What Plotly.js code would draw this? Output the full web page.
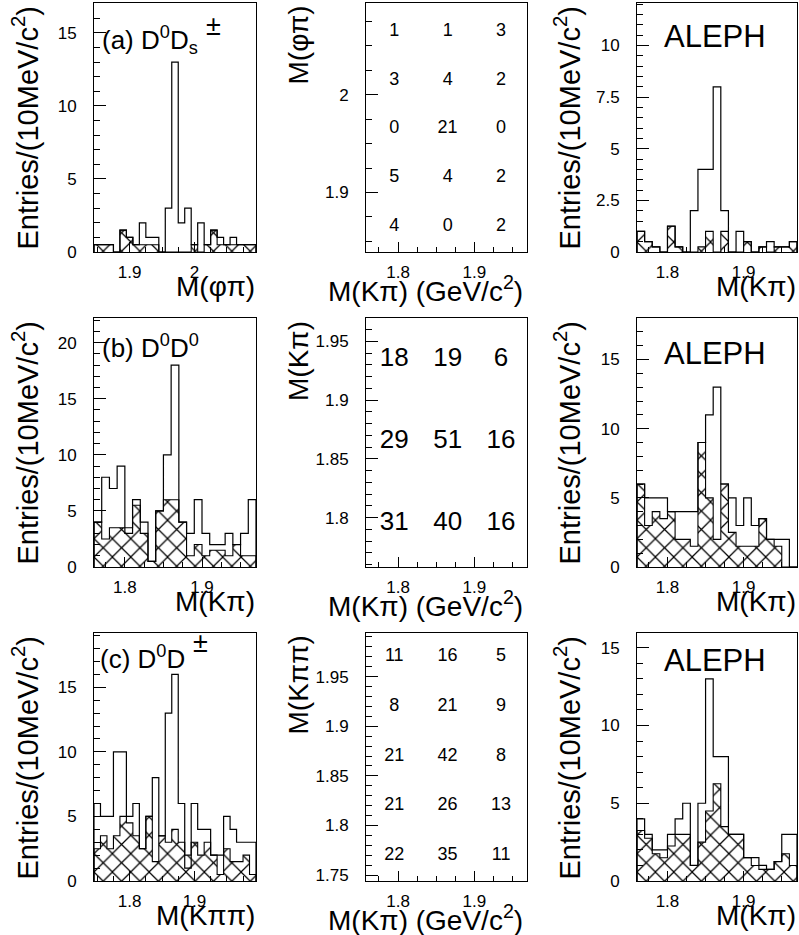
<!DOCTYPE html>
<html><head><meta charset="utf-8">
<script src="https://cdn.plot.ly/plotly-3.0.1.min.js"></script>
<style>html,body{margin:0;padding:0;background:#fff}#chart{width:799px;height:935px}</style>
</head><body><div id="chart"></div>
<script>
// ---------------- DATA ----------------
// (a) M(phi pi), 10 MeV bins starting at 1.845
const aStart = 1.845, aWidth = 0.01;
const aTotal = [0.5,0.5,0.5,0,1.5,1,0.5,2,1,1,0,3,13,2,3,0.5,2,0.5,1.5,1,0.5,1,0.5,0.5,0.5];
const aBkg   = [0.5,0.5,0.5,0,1.5,1,0.5,0.5,0.5,0.5,0,0,0,0,0,0.5,0,0.5,1.5,0.5,0.5,0.5,0.5,0.5,0.5];
// (b) M(K pi), bins from 1.76
const bStart = 1.76, bWidth = 0.01;
const bTotal = [4,8,7,9,3,6,4,0.5,5,10,18,4,3,6,3,2,2,3,2,3,6];
const bBkg   = [4,2.5,3.5,3.5,3.5,5.5,3,0.5,5,6,6,4,1,2,1,1.5,1.5,1,2,1,1];
// (c) M(K pi pi), bins from 1.745
const cStart = 1.745, cWidth = 0.01;
const cTotal = [6,5,5,10,10,5,6,2.5,5,8,3.5,13,16,6,1,6,4,4,2,2,5,4,3,3,3];
const cBkg   = [2.5,3.5,2.5,3.5,5,4.5,3.5,2.5,5,1.5,3.5,3,4,3,2,3,2,3,2,0.5,2.5,1.5,1.5,2,0.5];
// right column: M(K pi), bins from 1.76
const rStart = 1.76, rWidth = 0.01;
const r1Total = [1,0.5,0.25,0,1.25,0.25,0,2,4,4,8,2,0,1,0.5,0,0.25,0.5,0.25,0.25,0.5];
const r1Bkg   = [1,0.5,0.25,0,1.25,0.25,0,0,0.25,1,0,1,0,0,0.5,0,0.25,0,0.25,0.25,0.5];
const r2Total = [6,5,5,5,4,4,4,4,9,11,13,6,5,3,5,3,3.5,2,2,2,0];
const r2Bkg   = [6,3,4,3.5,4,2,2,1.5,9,5,2,6,2.5,1.5,1.5,1.5,3.5,2,1.5,0,0];
const r3Total = [4,3,2,2,3,4,5,1,5,13,8,8,3,3,1.5,1.5,1,0.75,1.25,3,3];
const r3Bkg   = [3.25,2.75,1.75,1.5,2.25,3,3,1,2.5,4.5,6.25,3.5,3,3,1.5,1,0.75,0.75,1.25,1.75,1];
// middle column: 2D cell counts (rows from bottom to top)
const mXEdges  = [1.76,1.83,1.90,1.97];
const m1YEdges = [1.84,1.89,1.94,1.99,2.04,2.09];
const m1Counts = [[4,0,2],[5,4,2],[0,21,0],[3,4,2],[1,1,3]];
const m2YEdges = [1.76,1.83,1.90,1.97];
const m2Counts = [[31,40,16],[29,51,16],[18,19,6]];
const m3YEdges = [1.745,1.795,1.845,1.895,1.945,1.995];
const m3Counts = [[22,35,11],[21,26,13],[21,42,8],[8,21,9],[11,16,5]];

// ---------------- HELPERS ----------------
const W = 799, H = 935;
const FONT = 'Liberation Sans, Arial, Helvetica, sans-serif';
const px = x => x / W, py = y => 1 - y / H;
const colPx = [[94,256],[366,527],[637,797]];
const rowTop = [3,318,633], rowBot = [252,567,881];

function step(start, width, vals) {
  const xs = [start], ys = [0];
  vals.forEach((v,i) => { xs.push(start + i*width); ys.push(v); });
  const end = start + vals.length*width;
  xs.push(end); ys.push(vals[vals.length-1]);
  xs.push(end); ys.push(0);
  return {xs, ys};
}
const traces = [];
function hist(n, start, width, total, bkg) {
  const b = step(start, width, bkg), t = step(start, width, total);
  const ax = n === 1 ? '' : String(n);
  traces.push({x:b.xs, y:b.ys, xaxis:'x'+ax, yaxis:'y'+ax, type:'scatter', mode:'lines',
    line:{shape:'hv', color:'black', width:1.1}, fill:'tozeroy', fillcolor:'rgba(255,255,255,0)',
    fillpattern:{shape:'x', fgcolor:'black', bgcolor:'rgba(255,255,255,0)', size:13, solidity:0.18},
    hoverinfo:'skip', showlegend:false});
  traces.push({x:t.xs, y:t.ys, xaxis:'x'+ax, yaxis:'y'+ax, type:'scatter', mode:'lines',
    line:{shape:'hv', color:'black', width:1.2}, hoverinfo:'skip', showlegend:false});
}
function cells(n, xEdges, yEdges, counts, size) {
  const xs = [], ys = [], tx = [];
  counts.forEach((row, j) => row.forEach((c, i) => {
    xs.push((xEdges[i]+xEdges[i+1])/2); ys.push((yEdges[j]+yEdges[j+1])/2); tx.push(String(c));
  }));
  traces.push({x:xs, y:ys, text:tx, mode:'text', type:'scatter', xaxis:'x'+n, yaxis:'y'+n,
    textfont:{family:FONT, size:size, color:'black'}, textposition:'middle center',
    hoverinfo:'skip', showlegend:false});
}

hist(1, aStart, aWidth, aTotal, aBkg);
cells(2, mXEdges, m1YEdges, m1Counts, 18);
hist(3, rStart, rWidth, r1Total, r1Bkg);
hist(4, bStart, bWidth, bTotal, bBkg);
cells(5, mXEdges, m2YEdges, m2Counts, 26);
hist(6, rStart, rWidth, r2Total, r2Bkg);
hist(7, cStart, cWidth, cTotal, cBkg);
cells(8, mXEdges, m3YEdges, m3Counts, 18);
hist(9, rStart, rWidth, r3Total, r3Bkg);

function axisBase(domain, range, dtick, minor, isX) {
  return {domain, range, dtick, tick0:0, showline:true, linecolor:'black', linewidth:1, mirror:true,
    ticks:'inside', ticklen: isX ? 10 : 12, tickwidth:1, tickcolor:'black',
    minor:{dtick:minor, ticks:'inside', ticklen: isX ? 5 : 6, tickwidth:1, tickcolor:'black', showgrid:false},
    showgrid:false, zeroline:false, fixedrange:true,
    ticklabelstandoff: isX ? 5 : 13,
    tickfont:{family:FONT, size:17, color:'black'}};
}
const layout = {width:W, height:H, margin:{l:0,r:0,t:0,b:0}, paper_bgcolor:'white', plot_bgcolor:'white',
  showlegend:false, annotations:[]};

// panel specs: [n, col, row, xRange, xDtick, xMinor, yRange, yDtick, yMinor]
const specs = [
  [1,0,0,[aStart, aStart+25*aWidth],0.1,0.025,[0,17.05],5,1],
  [2,1,0,[1.758,1.969],0.1,0.025,[1.839,2.094],0.1,0.025],
  [3,2,0,[rStart, rStart+21*rWidth],0.1,0.025,[0,12.06],2.5,0.5],
  [4,0,1,[bStart, bStart+21*bWidth],0.1,0.025,[0,22.2],5,1],
  [5,1,1,[1.758,1.969],0.1,0.025,[1.758,1.97],0.05,0.01],
  [6,2,1,[rStart, rStart+21*rWidth],0.1,0.025,[0,18],5,1],
  [7,0,2,[cStart, cStart+25*cWidth],0.1,0.025,[0,19.2],5,1],
  [8,1,2,[1.758,1.969],0.1,0.025,[1.744,1.994],0.05,0.01],
  [9,2,2,[rStart, rStart+21*rWidth],0.1,0.025,[0,15.95],5,1],
];
specs.forEach(([n,c,r,xr,xd,xm,yr,yd,ym]) => {
  const s = n === 1 ? '' : String(n);
  const xa = axisBase([px(colPx[c][0]), px(colPx[c][1])], xr, xd, xm, true);
  xa.anchor = 'y'+s;
  const ya = axisBase([py(rowBot[r]), py(rowTop[r])], yr, yd, ym, false);
  ya.anchor = 'x'+s;
  layout['xaxis'+s] = xa; layout['yaxis'+s] = ya;
});

function ann(text, x, y, size, xanchor, yanchor, angle) {
  layout.annotations.push({text, x:px(x), y:py(y), xref:'paper', yref:'paper', showarrow:false,
    xanchor, yanchor, textangle: angle || 0, font:{family:FONT, size, color:'black'}});
}
const yTitle = 'Entries/(10MeV/c<sup>2</sup>)';
for (let r = 0; r < 3; r++) {
  ann(yTitle, 25, rowTop[r]+2, 29, 'center', 'top', -90);
  ann(yTitle, 567, rowTop[r]+2, 29, 'center', 'top', -90);
  ann('M(Kπ) (GeV/c<sup>2</sup>)', 525, rowBot[r]+37, 28, 'right', 'middle');
  ann('M(Kπ)', 798, rowBot[r]+34, 28, 'right', 'middle');
  ann('ALEPH', 662, [37,353,660][r], 31, 'left', 'middle');
}
ann('M(φπ)', 257, rowBot[0]+34, 28, 'right', 'middle');
ann('M(Kπ)', 257, rowBot[1]+34, 28, 'right', 'middle');
ann('M(Kππ)', 257, rowBot[2]+34, 28, 'right', 'middle');
ann('M(φπ)', 298, rowTop[0]+1, 28, 'center', 'top', -90);
ann('M(Kπ)', 298, rowTop[1]+1, 28, 'center', 'top', -90);
ann('M(Kππ)', 298, rowTop[2]+1, 28, 'center', 'top', -90);
ann('(a) D<sup>0</sup>D<sub>s</sub>', 100, 40, 26, 'left', 'middle');
ann('±', 204, 26, 27, 'left', 'middle');
ann('(b) D<sup>0</sup>D<sup>0</sup>', 100, 346, 26, 'left', 'middle');
ann('(c) D<sup>0</sup>D', 98, 657, 26, 'left', 'middle');
ann('±', 191, 643, 27, 'left', 'middle');

Plotly.newPlot('chart', traces, layout, {displayModeBar:false, staticPlot:true});
</script></body></html>
